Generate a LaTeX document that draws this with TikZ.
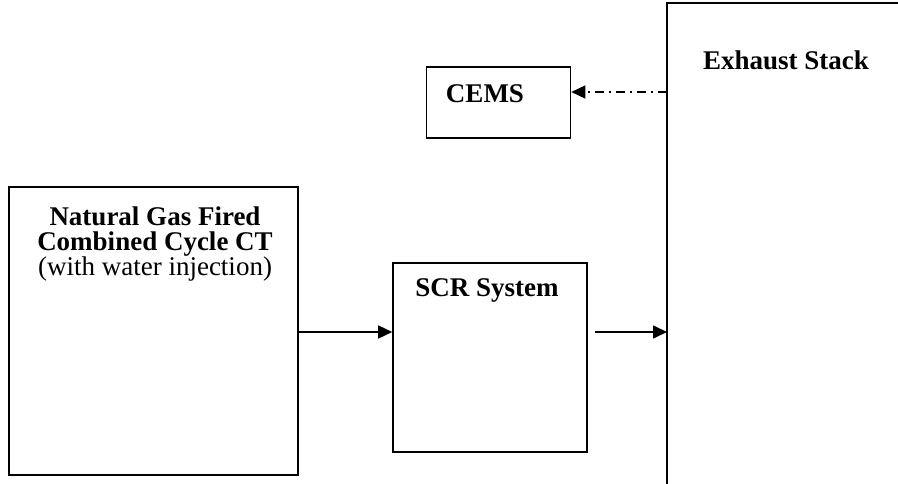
\documentclass[tikz,border=0pt]{standalone}
\usepackage{fontspec}
\setmainfont{Liberation Serif}
\usetikzlibrary{arrows.meta}
\begin{document}
\begin{tikzpicture}[x=1pt,y=-1pt,
  box/.style={draw,line width=1.6pt,rectangle,inner sep=0pt},
  lbl/.style={font=\fontsize{27}{25.5}\selectfont\bfseries,inner sep=0pt,align=center,anchor=base},
  flow/.style={line width=1.6pt,-{Triangle[length=14pt,width=13pt]}},
  dashdotflow/.style={line width=1.6pt,dash pattern=on 9pt off 5pt on 2pt off 5pt,-{Triangle[length=14pt,width=13pt]}}]
\useasboundingbox (0,0) rectangle (898,484);
% boxes
\node[box,minimum width=289pt,minimum height=288pt] (ct) at (153.5,331) {};
\node[box,minimum width=194pt,minimum height=189pt] (scr) at (490,357.5) {};
\node[box,minimum width=144pt,minimum height=71pt] (cems) at (498.5,102.5) {};
% exhaust stack (open on the right and bottom)
\coordinate (stTop) at (667,3);
\coordinate (stBot) at (667,484);
\coordinate (stRight) at (898,3);
\draw[line width=1.6pt] (stBot) -- (stTop) -- (stRight);
\coordinate (stIn) at (667,332);
\coordinate (stOut) at (667,92);
\coordinate (scrOut) at (595,332);
% texts
\node[lbl] (cttxt) at (155,276) {Natural Gas Fired\\Combined Cycle CT\\{\mdseries (with water injection)}};
\node[lbl] (scrtxt) at (487,297) {SCR System};
\node[lbl] (cemstxt) at (485,103) {CEMS};
\node[lbl] (sttxt) at (786,70) {Exhaust Stack};
% connectors
\draw[flow] (ct.east |- stIn) -- (scr.west |- stIn);
\draw[flow] (scrOut) -- (stIn);
\draw[dashdotflow] (stOut) -- (cems.east |- stOut);
\end{tikzpicture}
\end{document}
